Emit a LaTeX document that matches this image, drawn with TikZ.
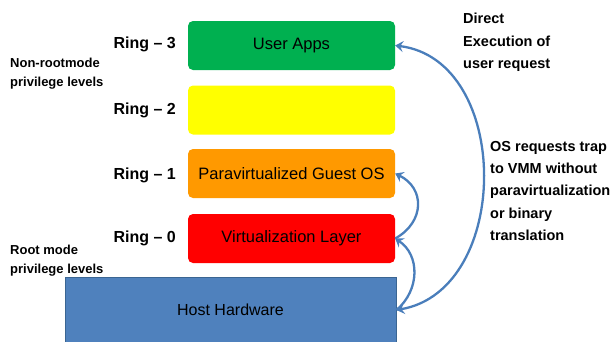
\documentclass[tikz,border=0pt]{standalone}
\usepackage{fontspec}
\setmainfont{Liberation Sans}
\usetikzlibrary{arrows.meta}
\definecolor{cgreen}{HTML}{00B050}
\definecolor{cyellow}{HTML}{FFFF00}
\definecolor{corange}{HTML}{FF9900}
\definecolor{cred}{HTML}{FF0000}
\definecolor{chost}{HTML}{4F81BD}
\definecolor{chostb}{HTML}{3A6592}
\definecolor{carrow}{HTML}{4A7EBB}
\tikzset{
  ring/.style={rounded corners=5pt, minimum width=207pt, minimum height=49pt, inner sep=0pt, font=\fontsize{16.5}{19}\selectfont},
  ringlbl/.style={anchor=east, inner sep=0pt, font=\fontsize{16}{19}\selectfont\bfseries},
  sidelbl/.style={align=left, anchor=north west, inner sep=0pt, font=\fontsize{13}{19}\selectfont\bfseries},
  rightlbl/.style={align=left, anchor=north west, inner sep=0pt, font=\fontsize{14.5}{22.3}\selectfont\bfseries},
  conn/.style={draw=carrow, line width=2.3pt, -{Stealth[length=8pt,width=11pt,inset=3pt]}},
}
\begin{document}
\begin{tikzpicture}[x=1pt,y=-1pt]
\useasboundingbox (0,0) rectangle (613,341);
\node[ring, fill=cgreen]  (green)  at (291.5,45.5) {User Apps};
\node[ring, fill=cyellow] (yellow) at (291.5,110) {};
\node[ring, fill=corange] (orange) at (291.5,173.5) {Paravirtualized Guest OS};
\node[ring, fill=cred]    (redb)   at (291.5,238.5) {Virtualization Layer};
\node[draw=chostb, line width=1pt, fill=chost, minimum width=331pt, minimum height=66pt, inner sep=0pt, font=\fontsize{16}{19}\selectfont] (host) at (230.5,310) {Host Hardware};
\node[ringlbl] (r3) at (176,44) {Ring -- 3};
\node[ringlbl] (r2) at (176,110) {Ring -- 2};
\node[ringlbl] (r1) at (176,175) {Ring -- 1};
\node[ringlbl] (r0) at (176,238) {Ring -- 0};
\node[sidelbl] (nonroot) at (10,58) {Non-rootmode\\privilege levels};
\node[sidelbl] (root) at (10,245) {Root mode\\privilege levels};
\node[rightlbl] (direct) at (463,13) {Direct\\Execution of\\user request};
\node[rightlbl] (trap) at (490,141) {OS requests trap\\to VMM without\\paravirtualization\\or binary\\translation};
\draw[conn, {Stealth[length=8pt,width=11pt,inset=3pt]}-{Stealth[length=8pt,width=11pt,inset=3pt]}] (host.east) .. controls (512,290) and (512,60) .. (green.east);
\draw[conn] (redb.east) .. controls (425,222) and (425,188) .. (orange.east);
\draw[conn] (host.east) .. controls (420,290) and (420,255) .. (redb.east);
\end{tikzpicture}
\end{document}
